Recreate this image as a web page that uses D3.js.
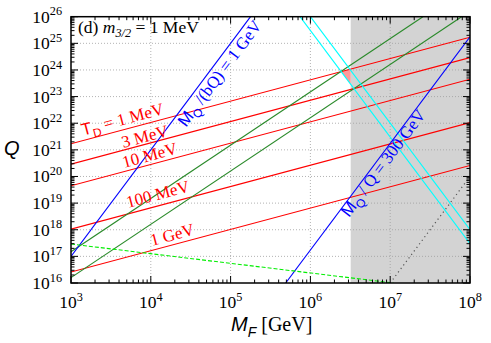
<!DOCTYPE html>
<html>
<head>
<meta charset="utf-8">
<script src="https://cdn.jsdelivr.net/npm/d3@7"></script>
<style>
  html, body { margin: 0; padding: 0; background: #fff; }
  svg { display: block; }
</style>
</head>
<body>
<div id="chart"></div>
<script>
// M_F in GeV on x, Q on y (log-log, straight lines)
const xExp = [3, 4, 5, 6, 7, 8];
const yExp = [16, 17, 18, 19, 20, 21, 22, 23, 24, 25, 26];

// T_D lines: Q at M_F = 1e3 and at M_F = 1e8
const tdNames = ['1 MeV', '3 MeV', '10 MeV', '100 MeV', '1 GeV'];
const tdQ0 = [1.7e21, 2.9e20, 4.5e19, 1.05e18, 2.6e16];
const tdQ1 = [1.7e25, 2.9e24, 4.5e23, 1.05e22, 2.6e20];

const greenLines = [
  [[1e3, 1.5e17], [2.57e7, 1e26]],
  [[1e3, 1.6e16], [7.85e7, 1e26]],
];
const blueLines = [
  [[1e3, 1e17], [1.78e5, 1e26]],
  [[4.9e5, 1e16], [1e8, 1.74e25]],
];
const cyanLines = [
  [[7.41e5, 1e26], [1e8, 3.0e17]],
  [[1e6, 1e26], [1e8, 1e18]],
];
const dottedLine = [[1e7, 1e16], [1e8, 1e20]];
const dashedGreen = [[1e3, 2.9e17], [1.1e7, 1e16]];
const pinkArea = [[2.43e6, 8.7e23], [3.2e6, 1.07e24], [3.2e6, 2.9e23]];
const greyFrom = 3.2e6;

// label anchors (start of baseline) in data units
const tdLabelAt = [[1.41e3, 3.4e21], [4.52e3, 1.17e21], [4.61e3, 2.1e20], [5.18e3, 6.6e18], [1.035e4, 2.45e17]];
const blueLabelAt = [[2.76e4, 6.8e21], [3.05e6, 2.75e18]];

const W = 491, H = 343;
const SERIF = '"Liberation Serif", "Times New Roman", serif';
const SANS = '"Liberation Sans", Arial, sans-serif';
const RED = '#ff0000', BLUE = '#0000ff', GREEN = '#2a8a2a', CYAN = '#00ffff';

const svg = d3.select('#chart').append('svg').attr('width', W).attr('height', H);

const x = d3.scaleLog().domain([1e3, 1e8]).range([71, 470]);
const y = d3.scaleLog().domain([1e16, 1e26]).range([283, 16.7]);
const [x0, x1] = x.range(), [y0, y1] = y.range();

svg.append('defs').append('clipPath').attr('id', 'plot')
  .append('rect').attr('x', x0).attr('y', y1).attr('width', x1 - x0).attr('height', y0 - y1);

const plot = svg.append('g').attr('clip-path', 'url(#plot)');

// excluded band
plot.append('rect')
  .attr('x', x(greyFrom)).attr('y', y1).attr('width', x1 - x(greyFrom)).attr('height', y0 - y1)
  .style('fill', '#d3d3d3');

plot.append('path')
  .attr('d', 'M' + pinkArea.map((d) => [x(d[0]), y(d[1])].join(',')).join('L') + 'Z')
  .style('fill', '#ff9a9a');

// grid
const grid = plot.append('g').style('stroke', '#a0a0a0').style('stroke-width', 0.8).style('stroke-dasharray', '1,2');
grid.selectAll('.gx').data(xExp.slice(1, -1)).join('line')
  .attr('x1', (e) => x(10 ** e)).attr('x2', (e) => x(10 ** e)).attr('y1', y0).attr('y2', y1);
grid.selectAll('.gy').data(yExp.slice(1, -1)).join('line')
  .attr('y1', (e) => y(10 ** e)).attr('y2', (e) => y(10 ** e)).attr('x1', x0).attr('x2', x1);

const line = d3.line().x((d) => x(d[0])).y((d) => y(d[1]));
function draw(data, color, dash, width) {
  plot.append('g').selectAll('path').data(data).join('path')
    .attr('d', line)
    .style('fill', 'none').style('stroke', color).style('stroke-width', width || 1.1)
    .style('stroke-dasharray', dash || null);
}

draw(tdQ0.map((q, i) => [[1e3, q], [1e8, tdQ1[i]]]), RED);
draw(greenLines, GREEN);
draw(cyanLines, CYAN);
draw(blueLines, BLUE);
draw([dashedGreen], '#00ee00', '4,2');
draw([dottedLine], '#555', '1.2,3.2', 1.2);

// rich text helper: parts = [{t, sans, i, sub, sup}]
function rich(g, parts, size) {
  const text = g.append('text').style('font-size', size + 'px').style('font-family', SERIF);
  let shift = 0;
  parts.forEach((p) => {
    const s = p.sub ? 0.28 * size : p.sup ? -0.42 * size : 0;
    const ts = text.append('tspan').attr('dy', s - shift).text(p.t);
    shift = s;
    if (p.sub || p.sup) ts.style('font-size', (size * 0.7) + 'px');
    if (p.sans) ts.style('font-family', SANS);
    if (p.i) ts.style('font-style', 'italic');
  });
  return text;
}

const ang = (a, b) => Math.atan2(y(b[1]) - y(a[1]), x(b[0]) - x(a[0])) * 180 / Math.PI;

// T_D labels
const lab = svg.append('g');
tdNames.forEach((n, i) => {
  const a = ang([1e3, tdQ0[i]], [1e8, tdQ1[i]]);
  const [lx, ly] = [x(tdLabelAt[i][0]), y(tdLabelAt[i][1])];
  const parts = i === 0
    ? [{ t: 'T', sans: true }, { t: 'D', sans: true, sub: true }, { t: ' = ' + n }]
    : [{ t: n }];
  rich(lab, parts, 17).attr('transform', `translate(${lx},${ly}) rotate(${a})`).style('fill', RED);
});

const blueText = [
  [{ t: 'M', sans: true }, { t: 'Q', sans: true, sub: true }, { t: ' /(bQ) = 1 GeV' }],
  [{ t: 'M', sans: true }, { t: 'Q', sans: true, sub: true }, { t: ' / Q = 300 GeV' }],
];
blueText.forEach((parts, i) => {
  const a = ang(blueLines[i][0], blueLines[i][1]);
  const [lx, ly] = [x(blueLabelAt[i][0]), y(blueLabelAt[i][1])];
  rich(lab, parts, 17).attr('transform', `translate(${lx},${ly}) rotate(${a})`).style('fill', BLUE);
});

// frame + ticks (inward, mirrored)
const ax = svg.append('g').style('stroke', '#000');
const minor = [2, 3, 4, 5, 6, 7, 8, 9];
xExp.forEach((e) => {
  const ticks = [[10 ** e, 7]].concat(e < 8 ? minor.map((m) => [m * 10 ** e, 3.5]) : []);
  ticks.forEach(([v, len]) => {
    ax.append('line').attr('x1', x(v)).attr('x2', x(v)).attr('y1', y0).attr('y2', y0 - len).style('stroke-width', 1);
    ax.append('line').attr('x1', x(v)).attr('x2', x(v)).attr('y1', y1).attr('y2', y1 + len).style('stroke-width', 1);
  });
});
yExp.forEach((e) => {
  const ticks = [[10 ** e, 7]].concat(e < 26 ? minor.map((m) => [m * 10 ** e, 3.5]) : []);
  ticks.forEach(([v, len]) => {
    ax.append('line').attr('y1', y(v)).attr('y2', y(v)).attr('x1', x0).attr('x2', x0 + len).style('stroke-width', 1);
    ax.append('line').attr('y1', y(v)).attr('y2', y(v)).attr('x1', x1).attr('x2', x1 - len).style('stroke-width', 1);
  });
});
ax.append('rect').attr('x', x0).attr('y', y1).attr('width', x1 - x0).attr('height', y0 - y1)
  .style('fill', 'none').style('stroke-width', 1.5);

// tick labels
const tl = svg.append('g').style('fill', '#000');
xExp.forEach((e) => {
  rich(tl, [{ t: '10' }, { t: String(e), sup: true }], 17.5)
    .attr('x', x(10 ** e)).attr('y', 308).attr('text-anchor', 'middle');
});
yExp.forEach((e) => {
  rich(tl, [{ t: '10' }, { t: String(e), sup: true }], 17.5)
    .attr('x', 62).attr('y', y(10 ** e) + 6).attr('text-anchor', 'end');
});

// axis titles
rich(tl, [{ t: 'M', sans: true, i: true }, { t: 'F', sans: true, i: true, sub: true }, { t: ' [GeV]' }], 20)
  .attr('x', 231).attr('y', 331);
rich(tl, [{ t: 'Q', sans: true, i: true }], 20).attr('x', 4).attr('y', 155);

// panel tag
rich(tl, [{ t: '(d) ' }, { t: 'm', i: true }, { t: '3/2', i: true, sub: true }, { t: ' = 1 MeV' }], 17.5)
  .attr('x', 78).attr('y', 32.5);
</script>
</body>
</html>
